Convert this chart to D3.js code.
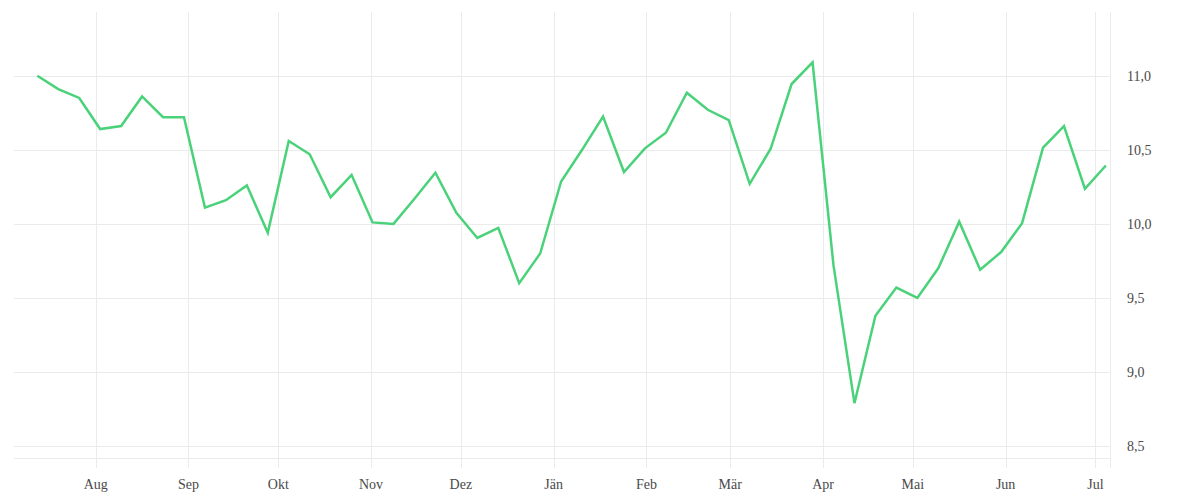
<!DOCTYPE html>
<html lang="de">
<head>
  <meta charset="utf-8">
  <title>Wochenwerte</title>
  <script src="https://cdn.jsdelivr.net/npm/d3@7"></script>
  <style>
    body { margin: 0; background: #fff; }
    text { font-family: "Liberation Serif", "DejaVu Serif", serif; }
  </style>
</head>
<body>
  <script>
    // weekly values, first week starts 2022-07-12
    var startDate = new Date(2022, 6, 12, 12);
    var values = [
      11.00, 10.91, 10.85, 10.64, 10.66, 10.86, 10.72, 10.72, 10.11, 10.16,
      10.26, 9.94, 10.56, 10.47, 10.18, 10.33, 10.01, 10.00, 10.17, 10.345,
      10.075, 9.905, 9.973, 9.60, 9.80, 10.286, 10.50, 10.725, 10.35, 10.51,
      10.615, 10.885, 10.77, 10.70, 10.27, 10.507, 10.944, 11.09, 9.72, 8.79,
      9.38, 9.57, 9.50, 9.70, 10.015, 9.69, 9.81, 10.005, 10.514, 10.66,
      10.237, 10.394
    ];
    var monthLabels = ["Aug", "Sep", "Okt", "Nov", "Dez", "Jän", "Feb", "Mär", "Apr", "Mai", "Jun", "Jul"];
    var yTicks = [8.5, 9.0, 9.5, 10.0, 10.5, 11.0];

    var dates = values.map(function (v, i) { return d3.timeDay.offset(startDate, i * 7); });
    var monthTicks = d3.timeMonth.range(new Date(2022, 7, 1), new Date(2023, 6, 2));

    var width = 1200, height = 500;
    var plotLeft = 14, plotRight = 1110, plotTop = 12, plotBottom = 458;

    var x = d3.scaleTime()
      .domain([new Date(2022, 6, 4, 17), new Date(2023, 6, 5, 21)])
      .range([plotLeft, plotRight]);
    var y = d3.scaleLinear()
      .domain([8.42, 11.43])
      .range([plotBottom, plotTop]);

    var svg = d3.select("body").append("svg")
      .attr("width", width)
      .attr("height", height);

    var grid = "#ebebeb";

    // horizontal grid
    svg.append("g").selectAll("line")
      .data(yTicks)
      .enter().append("line")
      .attr("x1", plotLeft).attr("x2", plotRight)
      .attr("y1", function (d) { return Math.round(y(d)) + 0.5; })
      .attr("y2", function (d) { return Math.round(y(d)) + 0.5; })
      .attr("stroke", grid);

    // vertical grid (runs a little past the baseline)
    svg.append("g").selectAll("line")
      .data(monthTicks)
      .enter().append("line")
      .attr("x1", function (d) { return Math.round(x(d)) + 0.5; })
      .attr("x2", function (d) { return Math.round(x(d)) + 0.5; })
      .attr("y1", plotTop).attr("y2", plotBottom + 10)
      .attr("stroke", grid);

    // frame: baseline and right edge
    svg.append("line")
      .attr("x1", plotLeft).attr("x2", plotRight)
      .attr("y1", plotBottom + 0.5).attr("y2", plotBottom + 0.5)
      .attr("stroke", grid);
    svg.append("line")
      .attr("x1", plotRight + 0.5).attr("x2", plotRight + 0.5)
      .attr("y1", plotTop).attr("y2", plotBottom + 10)
      .attr("stroke", grid);

    // month labels
    svg.append("g").selectAll("text")
      .data(monthTicks)
      .enter().append("text")
      .attr("x", function (d) { return x(d); })
      .attr("y", 489)
      .attr("text-anchor", "middle")
      .attr("font-size", 14)
      .attr("fill", "#4a4a4a")
      .text(function (d, i) { return monthLabels[i]; });

    // value labels on the right
    var fmt = function (d) { return d3.format(".1f")(d).replace(".", ","); };
    svg.append("g").selectAll("text")
      .data(yTicks)
      .enter().append("text")
      .attr("x", 1127)
      .attr("y", function (d) { return y(d); })
      .attr("dy", "0.35em")
      .attr("font-size", 14)
      .attr("fill", "#4a4a4a")
      .text(fmt);

    var line = d3.line()
      .x(function (d, i) { return x(dates[i]); })
      .y(function (d) { return y(d); });

    svg.append("path")
      .datum(values)
      .attr("d", line)
      .attr("fill", "none")
      .attr("stroke", "#4ad27a")
      .attr("stroke-width", 2.5)
      .attr("stroke-linejoin", "miter");
  </script>
</body>
</html>
